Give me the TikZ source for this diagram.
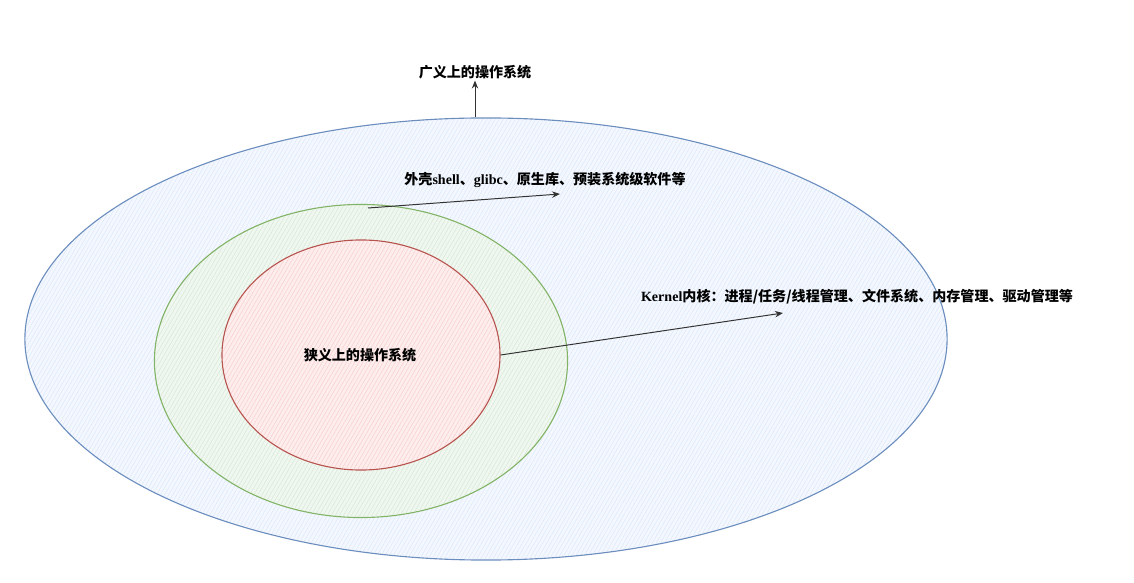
\documentclass[tikz,border=0pt]{standalone}
\usepackage{fontspec}
\usepackage{tikz}
\usetikzlibrary{arrows.meta,positioning,shapes.geometric,patterns.meta}
\setmainfont{Liberation Serif}
\newfontfamily\cjk{Noto Sans CJK SC Bold}
\definecolor{osblue}{HTML}{6C8EBF}
\definecolor{osbluefill}{HTML}{DAE8FC}
\definecolor{osgreen}{HTML}{82B366}
\definecolor{osgreenfill}{HTML}{D5E8D4}
\definecolor{osred}{HTML}{B85450}
\definecolor{osredfill}{HTML}{F8CECC}

\begin{document}
\begin{tikzpicture}[x=0.025cm,y=-0.025cm,layer/.style={ellipse,draw,line width=0.8pt,inner sep=0pt},hatch/.style={pattern={Lines[angle=60,distance=2.5pt,line width=0.35pt]},pattern color=#1},lbl/.style={font=\cjk\bfseries\fontsize{10}{12}\selectfont,inner sep=1pt},arc/.style={-{Stealth[length=2mm,width=1.6mm]},line width=0.7pt,black!80}]
\useasboundingbox (0,0) rectangle (1134,583);
\node[layer,draw=osblue,fill=osbluefill!30,minimum width=23.05cm,minimum height=11.05cm] (wide) at (486,339) {};
\path[hatch=osbluefill] (486,339) ellipse [x radius=460,y radius=220];
\node[layer,draw=osgreen,fill=osgreenfill!35,minimum width=10.325cm,minimum height=7.825cm] (shell) at (361,361) {};
\path[hatch=osgreenfill] (361,361) ellipse [x radius=205,y radius=156];
\node[layer,draw=osred,fill=osredfill!35,minimum width=6.95cm,minimum height=5.75cm] (core) at (361,355) {};
\path[hatch=osredfill] (361,355) ellipse [x radius=138,y radius=114];
\node[lbl] (narrow) at (360,355) {狭义上的操作系统};
% labels
\node[lbl] (broad) at (475,72) {广义上的操作系统};
\node[lbl] (extra) at (545,180) {外壳{\rmfamily\bfseries shell}、{\rmfamily\bfseries glibc}、原生库、预装系统级软件等};
\node[lbl] (kernel) at (857,297) {{\rmfamily\bfseries Kernel}内核：进程/任务/线程管理、文件系统、内存管理、驱动管理等};
\coordinate (shellend) at (560,194);
\coordinate (kernelend) at (783,313);
% arrows
\draw[arc] (broad.south |- wide.north) -- (broad.south);
\draw[arc] (368,208) -- (shellend);
\draw[arc] (core.east) -- (kernelend);
\end{tikzpicture}
\end{document}
